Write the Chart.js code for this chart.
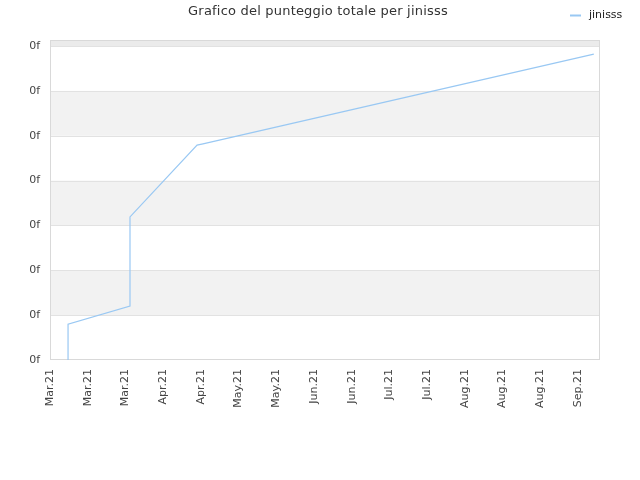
<!DOCTYPE html>
<html>
<head>
<meta charset="utf-8">
<script src="https://cdn.jsdelivr.net/npm/chart.js@4.4.1/dist/chart.umd.min.js"></script>
<style>
  html, body { margin: 0; padding: 0; background: #fff; }
  #wrap { width: 640px; height: 480px; }
</style>
</head>
<body>
<div id="wrap"><canvas id="chart" width="640" height="480"></canvas></div>
<script>
// ── Data (days since 1 Mar 2021, score in tick units) ─────
const DAYS   = [6.7, 6.7, 29.7, 29.7, 54.6, 56.8, 201.9];
const SCORES = [0, 0.80, 1.20, 3.19, 4.79, 4.82, 6.82];
const X_TICK_LABELS = ['Mar.21', 'Mar.21', 'Mar.21', 'Apr.21', 'Apr.21', 'May.21', 'May.21',
  'Jun.21', 'Jun.21', 'Jul.21', 'Jul.21', 'Aug.21', 'Aug.21', 'Aug.21', 'Sep.21'];
const Y_TICK_LABEL = '0f';
const TITLE = 'Grafico del punteggio totale per jinisss';
const SERIES_NAME = 'jinisss';

const LINE_COLOR = '#99c8f3';
const FONT = '"DejaVu Sans", Verdana, sans-serif';

// ── Alternating bands + frame ─────────────────────────────
const bands = {
  id: 'bands',
  beforeDatasetsDraw(chart) {
    const { ctx, chartArea: a, scales: { y } } = chart;
    ctx.save();
    const ys = y.ticks.map(t => y.getPixelForValue(t.value));
    ys.push(a.top);
    for (let i = 0; i < ys.length - 1; i++) {
      if (i % 2 === 1) {
        ctx.fillStyle = i === ys.length - 2 ? '#ebebeb' : '#f2f2f2';
        ctx.fillRect(a.left, ys[i + 1], a.right - a.left, ys[i] - ys[i + 1]);
      }
    }
    ctx.strokeStyle = '#e2e2e2';
    ctx.lineWidth = 1;
    ys.slice(1, -1).forEach(py => {
      ctx.beginPath();
      ctx.moveTo(a.left, Math.round(py) + 0.5);
      ctx.lineTo(a.right, Math.round(py) + 0.5);
      ctx.stroke();
    });
    ctx.strokeStyle = '#d9d9d9';
    ctx.strokeRect(a.left + 0.5, a.top + 0.5, a.right - a.left - 1, a.bottom - a.top - 1);
    ctx.restore();
  },
  afterDraw(chart) {
    const { ctx } = chart;
    ctx.save();
    ctx.fillStyle = '#333';
    ctx.font = '13px ' + FONT;
    ctx.letterSpacing = '0.2px';
    ctx.textAlign = 'center';
    ctx.textBaseline = 'middle';
    ctx.fillText(TITLE, 318, 12);
    ctx.letterSpacing = '0px';
    // legend
    ctx.strokeStyle = LINE_COLOR;
    ctx.lineWidth = 2;
    ctx.beginPath();
    ctx.moveTo(570, 15.5);
    ctx.lineTo(581, 15.5);
    ctx.stroke();
    ctx.fillStyle = '#222';
    ctx.font = '11px ' + FONT;
    ctx.textAlign = 'left';
    ctx.fillText(SERIES_NAME, 589, 15);
    ctx.restore();
  }
};

// one tick per step, no extra tick at an explicit max
const onlySteps = scale => {
  const step = scale.options.ticks.stepSize;
  const ticks = [];
  for (let v = scale.options.min; v <= scale.options.max + 1e-9; v += step) ticks.push({ value: v });
  scale.ticks = ticks;
};

new Chart(document.getElementById('chart'), {
  type: 'line',
  data: {
    datasets: [{
      label: SERIES_NAME,
      data: DAYS.map((d, i) => ({ x: d, y: SCORES[i] })),
      borderColor: LINE_COLOR,
      backgroundColor: LINE_COLOR,
      borderWidth: 1.2,
      pointRadius: 0,
      tension: 0,
      fill: false,
    }]
  },
  options: {
    responsive: false,
    animation: false,
    layout: { padding: { top: 40, right: 40, left: 0, bottom: 0 } },
    plugins: {
      legend: { display: false },
      title: { display: false },
      tooltip: { enabled: false },
    },
    scales: {
      x: {
        type: 'linear',
        min: 0,
        max: 204.2,
        afterBuildTicks: onlySteps,
        afterFit: s => { s.height = 120; },
        grid: { display: false, drawTicks: false },
        border: { display: false },
        ticks: {
          stepSize: 14,
          minRotation: 90,
          maxRotation: 90,
          padding: 9,
          color: '#444',
          font: { family: FONT, size: 11 },
          callback: v => X_TICK_LABELS[Math.round(v / 14)] ?? '',
        },
      },
      y: {
        type: 'linear',
        min: 0,
        max: 7.134,
        afterBuildTicks: onlySteps,
        afterFit: s => { s.width = 50; },
        grid: { display: false, drawTicks: false },
        border: { display: false },
        ticks: {
          stepSize: 1,
          padding: 10,
          color: '#444',
          font: { family: FONT, size: 11 },
          callback: () => Y_TICK_LABEL,
        },
      },
    },
  },
  plugins: [bands],
});
</script>
</body>
</html>
